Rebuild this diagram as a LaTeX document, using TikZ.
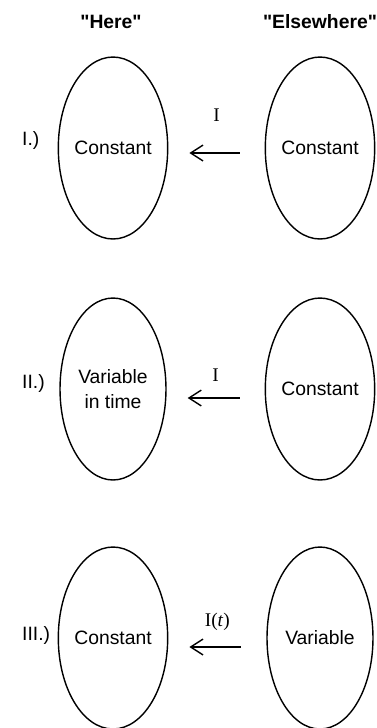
\documentclass[tikz,border=0pt]{standalone}
\usepackage{fontspec}
\setmainfont{Liberation Sans}
\newfontfamily\labelserif{Liberation Serif}
\newfontfamily\headfont{Liberation Sans}[Ligatures=ResetAll]
\usetikzlibrary{arrows.meta,shapes.geometric,positioning}

\begin{document}
\begin{tikzpicture}[x=0.02cm,y=-0.02cm,>={Straight Barb[length=7pt,width=9pt]},
  blob/.style={draw,ellipse,line width=0.8pt,minimum width=2.12cm,minimum height=3.64cm,inner sep=0pt,align=center,font=\fontsize{11}{14}\selectfont},
  flow/.style={<-,line width=0.8pt,shorten <=0.42cm,shorten >=0.5cm},
  rowlab/.style={anchor=west,font=\fontsize{11}{13}\selectfont},
  head/.style={font=\headfont\bfseries\fontsize{11}{13}\selectfont},
  flux/.style={font=\labelserif\fontsize{11}{13}\selectfont}]
 \useasboundingbox (0,0) rectangle (377,728);
 \node[head] (here) at (111,22) {"Here"};
 \node[head] (else) at (320,22) {"Elsewhere"};
 % row I
 \node[blob] (h1) at (113,148) {Constant};
 \node[blob] (e1) at (320,148) {Constant};
 \node[rowlab] (r1) at (16,140) {I.)};
 \draw[flow] ([yshift=-0.1cm]h1.east) -- ([yshift=-0.1cm]e1.west) node[midway,above=0.5cm,flux] (c1) {I};
 % row II
 \node[blob] (h2) at (113,389) {Variable\\in time};
 \node[blob] (e2) at (320,389) {Constant};
 \node[rowlab] (r2) at (16,383) {II.)};
 \draw[flow] ([yshift=-0.18cm]h2.east) -- ([yshift=-0.18cm]e2.west) node[midway,above=0.2cm,flux] (c2) {I};
 % row III
 \node[blob] (h3) at (113,638) {Constant};
 \node[blob] (e3) at (320,638) {Variable};
 \node[rowlab] (r3) at (16,635) {III.)};
 \draw[flow] ([yshift=-0.18cm]h3.east) -- ([yshift=-0.18cm]e3.west) node[midway,above=0.2cm,flux] (c3) {I(\textit{t})};
\end{tikzpicture}
\end{document}
